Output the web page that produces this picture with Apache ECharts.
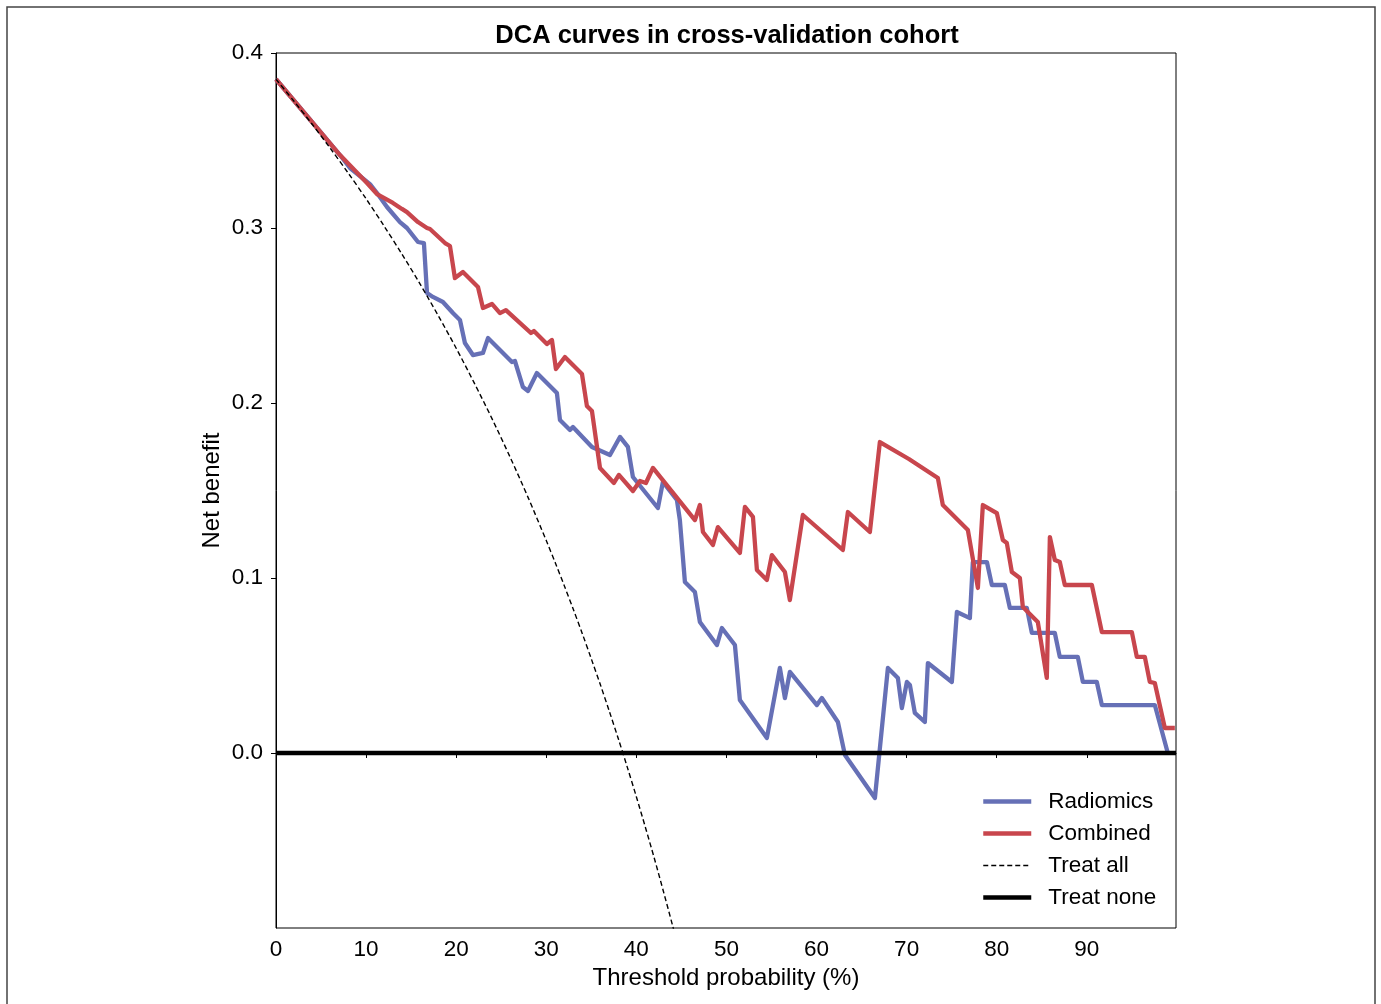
<!DOCTYPE html>
<html>
<head>
<meta charset="utf-8">
<script src="https://cdn.jsdelivr.net/npm/echarts@6/dist/echarts.min.js"></script>
<style>
html,body{margin:0;padding:0;background:#fff;}
#chart{width:1381px;height:1004px;}
</style>
</head>
<body>
<div id="chart"></div>
<script>
// ---- Data (threshold %, net benefit) ----
const titleText = 'DCA curves in cross-validation cohort';
const xTicks = [0, 10, 20, 30, 40, 50, 60, 70, 80, 90];
const yTicks = [0.0, 0.1, 0.2, 0.3, 0.4];

const radiomicsPoints = [
  [0,0.385],[7.10,0.3417],[8.21,0.3343],[10.43,0.3251],[11.21,0.3200],[12.32,0.3120],
  [13.76,0.3034],[14.54,0.3000],[15.76,0.2920],[16.42,0.2914],[16.76,0.2629],[17.42,0.2606],
  [18.53,0.2577],[19.64,0.2514],[20.42,0.2474],[20.97,0.2343],[21.86,0.2274],[22.97,0.2286],
  [23.53,0.2371],[26.19,0.2234],[26.52,0.2240],[27.41,0.2091],[27.97,0.2069],[28.96,0.2171],
  [31.18,0.2057],[31.52,0.1903],[32.63,0.1846],[32.96,0.1863],[35.07,0.1749],[37.07,0.1703],
  [38.18,0.1806],[39.06,0.1749],[39.62,0.1577],[42.39,0.1400],[42.95,0.1549],[44.50,0.1446],
  [44.83,0.1331],[45.39,0.0977],[46.50,0.0920],[47.05,0.0749],[48.94,0.0617],[49.49,0.0714],
  [50.94,0.0617],[51.49,0.0303],[54.49,0.0086],[55.93,0.0486],[56.49,0.0314],[57.04,0.0463],
  [60.04,0.0274],[60.59,0.0314],[62.37,0.0177],[63.15,-0.0011],[66.48,-0.0257],[67.92,0.0486],
  [69.03,0.0429],[69.47,0.0257],[70.03,0.0406],[70.36,0.0389],[70.91,0.0229],[72.02,0.0177],
  [72.36,0.0514],[75.02,0.0406],[75.58,0.0806],[77.02,0.0771],[77.35,0.1091],[78.91,0.1091],
  [79.46,0.0960],[80.90,0.0960],[81.46,0.0829],[83.34,0.0829],[83.90,0.0686],[86.45,0.0686],
  [87.00,0.0549],[89.00,0.0549],[89.56,0.0406],[91.11,0.0406],[91.67,0.0274],[97.55,0.0274],
  [98.99,0.0]
];

const combinedPoints = [
  [0,0.385],[7.10,0.3417],[10.10,0.3257],[11.21,0.3194],[12.98,0.3143],[13.98,0.3109],
  [14.54,0.3091],[15.76,0.3034],[16.76,0.3000],[17.09,0.2994],[18.76,0.2914],[19.31,0.2897],
  [19.86,0.2714],[20.75,0.2749],[22.42,0.2663],[22.97,0.2543],[23.97,0.2566],[24.86,0.2514],
  [25.52,0.2531],[28.30,0.2400],[28.63,0.2411],[30.07,0.2337],[30.63,0.2360],[31.07,0.2194],
  [32.07,0.2263],[33.96,0.2166],[34.51,0.1983],[35.07,0.1954],[35.96,0.1629],[37.51,0.1543],
  [38.06,0.1589],[39.62,0.1497],[40.40,0.1554],[41.06,0.1543],[41.84,0.1629],[46.50,0.1331],
  [47.05,0.1417],[47.39,0.1263],[48.50,0.1189],[49.05,0.1291],[51.49,0.1143],[52.05,0.1406],
  [52.94,0.1349],[53.38,0.1046],[54.49,0.0989],[55.04,0.1131],[56.49,0.1034],[57.04,0.0874],
  [58.48,0.1360],[62.92,0.1160],[63.48,0.1377],[65.92,0.1263],[67.03,0.1777],[70.25,0.1680],
  [73.47,0.1571],[74.02,0.1417],[76.80,0.1274],[77.91,0.0943],[78.46,0.1417],[80.01,0.1371],
  [80.68,0.1217],[81.12,0.1200],[81.68,0.1034],[82.57,0.1000],[82.90,0.0834],[83.45,0.0806],
  [84.56,0.0749],[85.56,0.0429],[85.90,0.1234],[86.45,0.1103],[87.00,0.1091],[87.56,0.0960],
  [90.56,0.0960],[91.67,0.0691],[95.00,0.0691],[95.55,0.0549],[96.44,0.0549],[96.99,0.0406],
  [97.55,0.0400],[98.66,0.0143],[99.77,0.0143]
];

const treatAllX = [0,2,4,6,8,10,12,14,16,18,20,22,24,26,28,30,31,32,33,34,35,36,37,38,39,40,41,42,43,44,44.5];
const treatAllY = [0.385,0.3724,0.3594,0.3457,0.3315,0.3167,0.3011,0.2849,0.2679,0.2500,0.2313,0.2115,
  0.1908,0.1689,0.1458,0.1214,0.1087,0.0956,0.0821,0.0682,0.0538,0.0391,0.0238,0.0081,-0.0082,
  -0.0250,-0.0424,-0.0603,-0.0790,-0.0982,-0.1081];

const treatNoneX = [0, 99.9];
const treatNoneY = [0, 0];

// ---- Build ----
const zip = (xs, ys) => xs.map((x, i) => [x, ys[i]]);
const FONT = 'Liberation Sans, Arial, sans-serif';

const chart = echarts.init(document.getElementById('chart'), null, {renderer: 'canvas'});
chart.setOption({
  backgroundColor: '#fff',
  animation: false,
  title: {
    text: titleText,
    left: 722, top: 18, textAlign: 'center',
    textStyle: {fontFamily: FONT, fontWeight: 'bold', fontSize: 25.5, color: '#000'}
  },
  graphic: [{
    type: 'rect', silent: true, z: -1,
    shape: {x: 7, y: 7, width: 1368, height: 1020},
    style: {fill: 'none', stroke: '#444', lineWidth: 1.5}
  }],
  grid: {left: 276, top: 53, right: 205, bottom: 76, show: true, borderColor: '#000', borderWidth: 1, backgroundColor: 'transparent'},
  legend: {
    orient: 'vertical', left: 981, top: 790, padding: 0,
    itemWidth: 48, itemHeight: 14, itemGap: 9,
    itemStyle: {opacity: 0},
    lineStyle: {width: 'inherit'},
    textStyle: {fontFamily: FONT, fontSize: 22.5, lineHeight: 23, color: '#000', padding: [0, 0, 0, 12]},
    data: ['Radiomics', 'Combined', 'Treat all', 'Treat none']
  },
  xAxis: {
    type: 'value', min: 0, max: 99.9, interval: 10,
    name: 'Threshold probability (%)', nameLocation: 'middle', nameGap: 38,
    nameTextStyle: {fontFamily: FONT, fontSize: 24, color: '#000'},
    axisLine: {show: true, lineStyle: {color: '#000', width: 1}},
    axisTick: {show: true, inside: false, length: 5, lineStyle: {color: '#000'}},
    axisLabel: {fontFamily: FONT, fontSize: 22.5, color: '#000', margin: 10, showMaxLabel: false,
      formatter: v => (xTicks.indexOf(Math.round(v)) >= 0 && Math.abs(v - Math.round(v)) < 1e-6) ? String(Math.round(v)) : ''},
    splitLine: {show: false}
  },
  yAxis: {
    type: 'value', min: -0.1, max: 0.4, interval: 0.1,
    name: 'Net benefit', nameLocation: 'middle', nameGap: 52, nameRotate: 90, nameMoveOverlap: false,
    nameTextStyle: {fontFamily: FONT, fontSize: 24, color: '#000'},
    axisLine: {show: true, lineStyle: {color: '#000', width: 1}},
    axisTick: {show: true, inside: false, length: 5, lineStyle: {color: '#000'}},
    axisLabel: {fontFamily: FONT, fontSize: 22.5, color: '#000', margin: 13, showMinLabel: false,
      formatter: v => {
        const r = Math.round(v * 10) / 10;
        return yTicks.some(t => Math.abs(t - r) < 1e-9) ? r.toFixed(1) : '';
      }},
    splitLine: {show: false}
  },
  series: [
    {name: 'Radiomics', type: 'line', data: radiomicsPoints, showSymbol: false, symbol: 'none',
      lineStyle: {color: '#6670b6', width: 4.3, join: 'round'}, itemStyle: {color: '#6670b6'}, z: 2},
    {name: 'Combined', type: 'line', data: combinedPoints, showSymbol: false, symbol: 'none',
      lineStyle: {color: '#c8464d', width: 4.3, join: 'round'}, itemStyle: {color: '#c8464d'}, z: 3},
    {name: 'Treat all', type: 'line', data: zip(treatAllX, treatAllY), showSymbol: false, symbol: 'none', smooth: 0.3,
      lineStyle: {color: '#000', width: 1.4, type: [5, 3]}, itemStyle: {color: '#000'}, z: 4},
    {name: 'Treat none', type: 'line', data: zip(treatNoneX, treatNoneY), showSymbol: false, symbol: 'none',
      lineStyle: {color: '#000', width: 4.5}, itemStyle: {color: '#000'}, z: 5}
  ]
});
</script>
</body>
</html>
